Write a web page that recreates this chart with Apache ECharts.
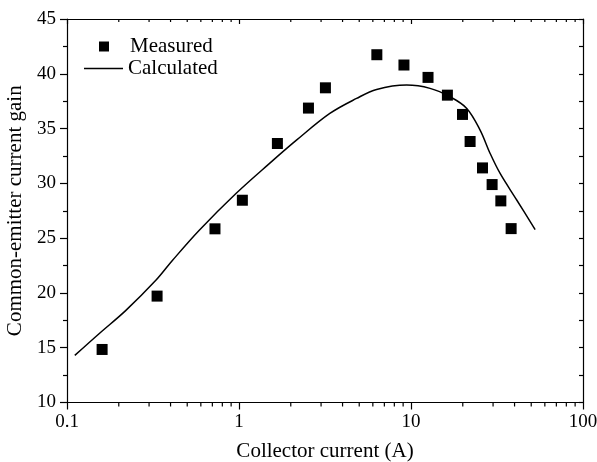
<!DOCTYPE html>
<html>
<head>
<meta charset="utf-8">
<script src="https://cdn.jsdelivr.net/npm/echarts@6/dist/echarts.min.js"></script>
<style>
  html, body { margin: 0; padding: 0; background: #fff; }
  #chart { width: 597px; height: 462px; }
</style>
</head>
<body>
<div id="chart"></div>
<script>
// Measured common-emitter current gain vs collector current
const measuredCurrent = [0.16, 0.334, 0.725, 1.046, 1.672, 2.534, 3.18, 6.33, 9.1, 12.56, 16.28, 19.92, 22.06, 26.04, 29.62, 33.29, 38.21];
const measuredGain    = [14.84, 19.71, 25.85, 28.46, 33.64, 36.87, 38.72, 41.74, 40.8, 39.67, 38.05, 36.29, 33.82, 31.41, 29.89, 28.4, 25.87];

// Calculated gain curve
const calcCurrent = [0.111, 0.1536, 0.22, 0.3285, 0.411, 0.5875, 0.96, 1.5, 2.158, 3.373, 4.826, 6.31, 9.43, 12.9, 16.87, 21.1, 25.22, 28.84, 32.97, 41.26, 52.7];
const calcGain    = [14.3, 16.28, 18.41, 21.15, 22.98, 25.72, 29.07, 31.8, 33.94, 36.38, 37.75, 38.57, 38.97, 38.67, 37.9, 36.84, 34.86, 32.73, 30.9, 28.46, 25.78];

// Minor tick positions within each decade of the current axis
const xMinorTicks = [0.2, 0.3, 0.4, 0.5, 0.6, 0.7, 0.8, 0.9, 2, 3, 4, 5, 6, 7, 8, 9, 20, 30, 40, 50, 60, 70, 80, 90];
const yMin = 10, yMax = 45, yStep = 5;

const FONT = '"Liberation Serif", "Times New Roman", serif';
const INK = '#000';

const chart = echarts.init(document.getElementById('chart'), null, { renderer: 'canvas' });

const baseX = {
  type: 'log', logBase: 10, min: 0.1, max: 100,
  axisLine: { show: true, lineStyle: { color: INK, width: 1.2 } },
  splitLine: { show: false }
};
const baseY = {
  type: 'value', min: yMin, max: yMax, interval: yStep,
  axisLine: { show: true, lineStyle: { color: INK, width: 1.2 } },
  splitLine: { show: false }
};

// thin tick marks placed on the frame through the log scale
function tickSeries(id, yVal, len, offset) {
  return {
    id: id, type: 'scatter', xAxisIndex: 0, yAxisIndex: 0,
    silent: true, clip: false, z: 1,
    symbol: 'rect', symbolSize: [1.2, len], symbolOffset: [0, offset],
    itemStyle: { color: INK, opacity: 1 },
    data: xMinorTicks.map(v => [v, yVal])
  };
}

chart.setOption({
  animation: false,
  backgroundColor: '#fff',
  grid: { left: 67, right: 14, top: 19, bottom: 59.5, outerBoundsMode: 'none', containLabel: false },
  legend: [
    {
      data: ['Measured'], icon: 'rect',
      left: 99, top: 36, padding: 0, itemWidth: 10, itemHeight: 10,
      textStyle: { fontFamily: FONT, fontSize: 21, color: INK, padding: [0, 0, 0, 16] }
    },
    {
      data: ['Calculated'], icon: 'rect',
      left: 84, top: 58, padding: 0, itemWidth: 39, itemHeight: 1.5,
      textStyle: { fontFamily: FONT, fontSize: 21, color: INK }
    }
  ],
  xAxis: [
    Object.assign({}, baseX, {
      position: 'bottom',
      name: 'Collector current (A)', nameLocation: 'middle', nameGap: 38,
      nameTextStyle: { fontFamily: FONT, fontSize: 21, color: INK },
      axisTick: { show: true, inside: false, length: 7, lineStyle: { color: INK, width: 1.2 } },
      axisLabel: { show: true, margin: 10, fontFamily: FONT, fontSize: 19, color: INK,
                   formatter: v => String(v) }
    }),
    Object.assign({}, baseX, {
      position: 'top',
      axisTick: { show: true, inside: true, length: 5, lineStyle: { color: INK, width: 1.2 } },
      axisLabel: { show: false }
    })
  ],
  yAxis: [
    Object.assign({}, baseY, {
      position: 'left',
      name: 'Common-emitter current gain', nameLocation: 'middle', nameGap: 38, nameRotate: 90,
      nameTextStyle: { fontFamily: FONT, fontSize: 21, color: INK },
      axisTick: { show: true, inside: false, length: 7, lineStyle: { color: INK, width: 1.2 } },
      minorTick: { show: true, splitNumber: 2, length: 4, lineStyle: { color: INK, width: 1.2 } },
      axisLabel: { show: true, margin: 11, fontFamily: FONT, fontSize: 19, color: INK }
    }),
    Object.assign({}, baseY, {
      position: 'right',
      axisTick: { show: true, inside: true, length: 4, lineStyle: { color: INK, width: 1.2 } },
      minorTick: { show: true, splitNumber: 2, length: 4, lineStyle: { color: INK, width: 1.2 } },
      axisLabel: { show: false }
    })
  ],
  series: [
    tickSeries('bottomMinorTicks', yMin, 4, 2),
    tickSeries('topMinorTicks', yMax, 3, 1.5),
    {
      name: 'Measured', type: 'scatter', xAxisIndex: 0, yAxisIndex: 0,
      symbol: 'rect', symbolSize: 11,
      itemStyle: { color: INK, opacity: 1 },
      data: measuredCurrent.map((c, i) => [c, measuredGain[i]]),
      z: 3
    },
    {
      name: 'Calculated', type: 'line', xAxisIndex: 0, yAxisIndex: 0,
      symbol: 'none', smooth: 0.35,
      lineStyle: { color: INK, width: 1.5 },
      itemStyle: { color: INK },
      data: calcCurrent.map((c, i) => [c, calcGain[i]]),
      z: 2
    }
  ]
});
</script>
</body>
</html>
